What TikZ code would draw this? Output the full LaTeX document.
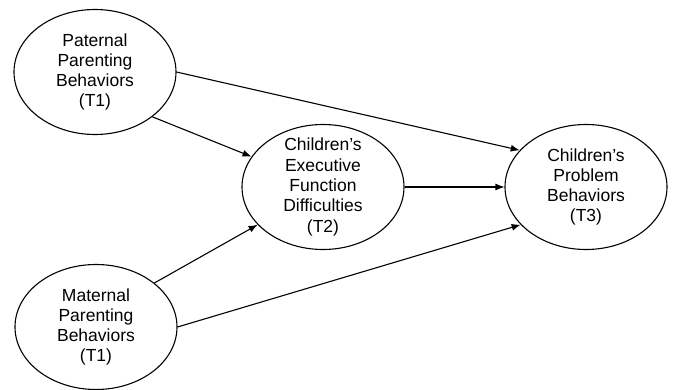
\documentclass[tikz,border=0pt]{standalone}
\usepackage{fontspec}
\setmainfont{Liberation Sans}
\usepackage{tikz}
\usetikzlibrary{arrows.meta,positioning,shapes.geometric}

\begin{document}
\begin{tikzpicture}[x=1pt,y=-1pt,>={Latex[length=9pt,width=7pt]},
  latent/.style={draw,line width=1.1pt,ellipse,minimum width=162pt,minimum height=125pt,
    inner xsep=0pt,inner ysep=-10pt,align=center,font=\fontsize{17.5}{20.3}\selectfont},
  path/.style={->,line width=1.1pt}]
\useasboundingbox (0,0) rectangle (674,390);
\node[latent] (pat) at (95,72) {Paternal\\Parenting\\Behaviors\\(T1)};
\node[latent] (mat) at (96,327) {Maternal\\Parenting\\Behaviors\\(T1)};
\node[latent] (exe) at (323,187) {Children’s\\Executive\\Function\\Difficulties\\(T2)};
\node[latent] (prob) at (586,187) {Children’s\\Problem\\Behaviors\\(T3)};
\draw[path] (pat.east) -- (prob.151);
\draw[path] (pat.-38) -- (exe.157);
\draw[path] (exe.east) -- (prob.west);
\draw[path] (mat.37) -- (exe.210);
\draw[path] (mat.east) -- (prob.210);
\end{tikzpicture}
\end{document}
